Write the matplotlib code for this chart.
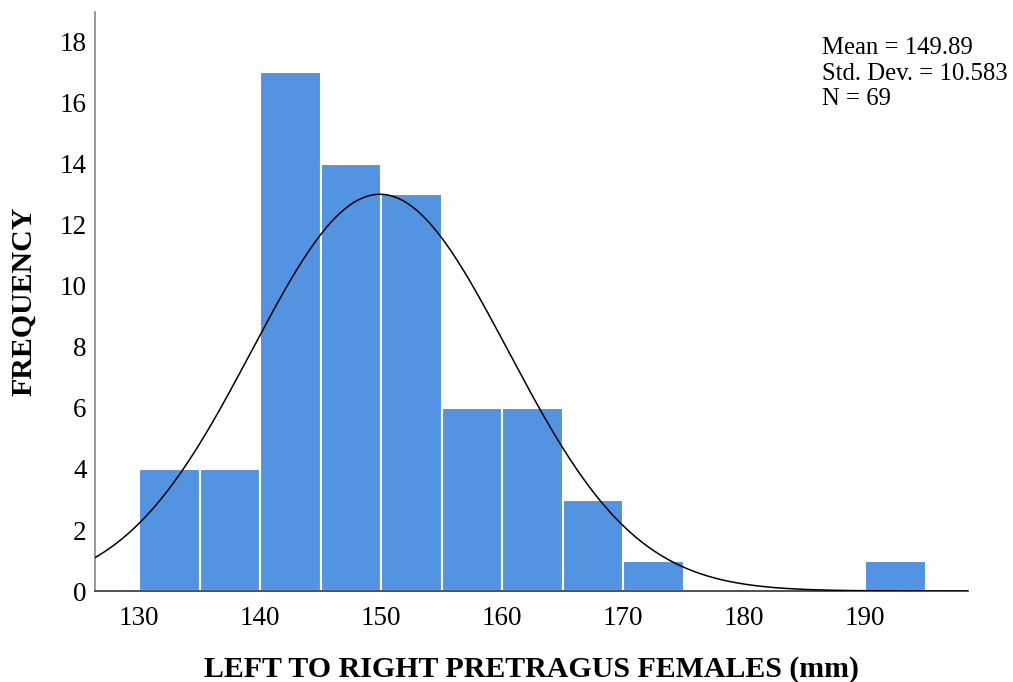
import numpy as np
import matplotlib
matplotlib.use("Agg")
import matplotlib.pyplot as plt

bin_edges = [130, 135, 140, 145, 150, 155, 160, 165, 170, 175, 180, 185, 190, 195]
counts = [4, 4, 17, 14, 13, 6, 6, 3, 1, 0, 0, 0, 1]
mean = 149.89
sd = 10.583
n = 69
x_ticks = [130, 140, 150, 160, 170, 180, 190]
y_ticks = [0, 2, 4, 6, 8, 10, 12, 14, 16, 18]

plt.rcParams['font.family'] = ['Liberation Serif', 'DejaVu Serif']

fig = plt.figure(figsize=(10.13, 6.82), dpi=100)
ax = fig.add_axes([0.0933, 0.1334, 0.8623, 0.849])

lefts = np.array(bin_edges[:-1])
widths = np.diff(bin_edges)
ax.bar(lefts, counts, width=widths, align='edge', color='#5294E2',
       edgecolor='white', linewidth=1.5, zorder=2)

xs = np.linspace(126.3, 198.5, 400)
bw = 5
ys = n * bw / (sd * np.sqrt(2 * np.pi)) * np.exp(-0.5 * ((xs - mean) / sd) ** 2)
ax.plot(xs, ys, color='black', linewidth=1.1, zorder=3)

ax.set_xlim(126.3, 198.5)
ax.set_ylim(0, 18.98)
ax.set_xticks(x_ticks)
ax.set_yticks(y_ticks)
ax.tick_params(length=0, labelsize=19.5)
ax.tick_params(axis='x', pad=10.5)
ax.tick_params(axis='y', pad=5.5)
for s in ['top', 'right']:
    ax.spines[s].set_visible(False)
ax.spines['left'].set_color('#888888')
ax.spines['bottom'].set_color('#333333')
ax.spines['left'].set_linewidth(1.2)
ax.spines['bottom'].set_linewidth(1.2)

ax.set_xlabel('LEFT TO RIGHT PRETRAGUS FEMALES (mm)', fontsize=21.5, fontweight='bold', labelpad=18)
ax.set_ylabel('FREQUENCY', fontsize=21.5, fontweight='bold', labelpad=16)

fig.text(822 / 1013, 1 - 37 / 682,
         f'Mean = {mean:.2f}\nStd. Dev. = {sd:.3f}\nN = {n}',
         fontsize=17.8, va='top', ha='left', linespacing=1.22)

fig.savefig('out.png', dpi=100)
